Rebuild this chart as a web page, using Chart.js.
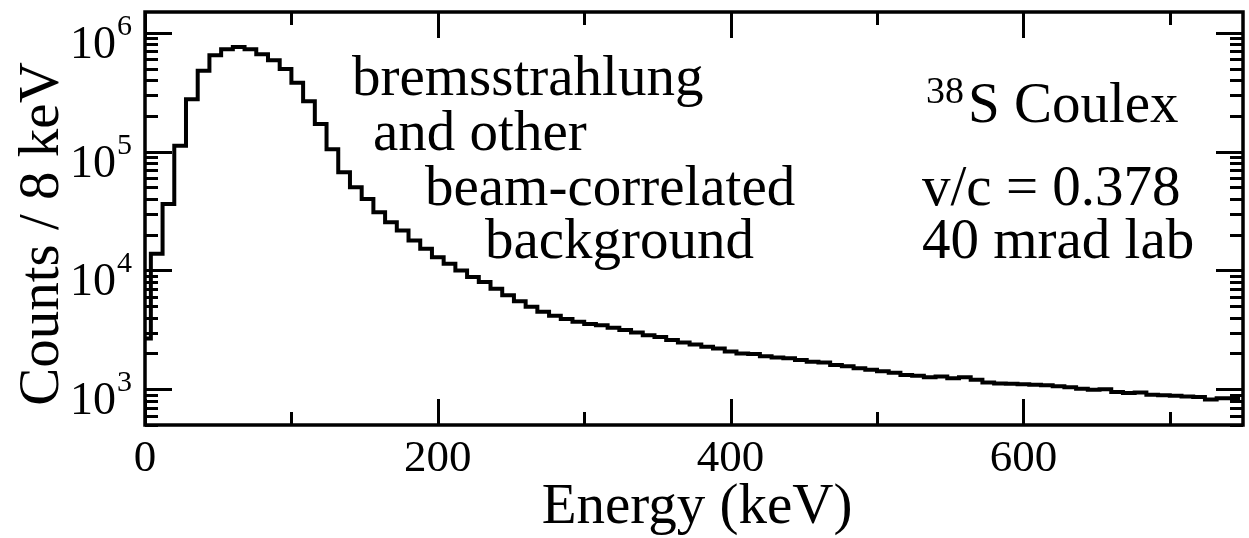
<!DOCTYPE html>
<html>
<head>
<meta charset="utf-8">
<script src="https://cdn.jsdelivr.net/npm/chart.js@4.4.0/dist/chart.umd.min.js"></script>
<style>
    html, body { margin: 0; padding: 0; background: #fff; }
    #wrap { width: 1249px; height: 538px; }
</style>
</head>
<body>
<div id="wrap"><canvas id="spectrum"></canvas></div>
<script>
// bin centres (keV), 8 keV bins
const energy = [
    0, 8, 16, 24, 32, 40, 48, 56, 64, 72, 80, 88, 96, 104, 112, 120,
    128, 136, 144, 152, 160, 168, 176, 184, 192, 200, 208, 216, 224, 232, 240,
    248, 256, 264, 272, 280, 288, 296, 304, 312, 320, 328, 336, 344, 352, 360,
    368, 376, 384, 392, 400, 408, 416, 424, 432, 440, 448, 456, 464, 472, 480,
    488, 496, 504, 512, 520, 528, 536, 544, 552, 560, 568, 576, 584, 592, 600,
    608, 616, 624, 632, 640, 648, 656, 664, 672, 680, 688, 696, 704, 712, 720,
    728, 736, 744
];
// counts per bin
const counts = [
    200, 2670, 13800, 36300, 112000, 277000, 480000, 649000, 730000, 762000, 730000, 662000, 589000, 496000, 380000, 266000,
    171000, 105000, 67000, 50100, 40000, 30900, 25500, 21700, 17900, 15200, 12900, 11400, 10000, 8790, 7980,
    7000, 6200, 5500, 4950, 4500, 4150, 3900, 3700, 3550, 3450, 3300, 3150, 3000, 2850, 2750,
    2600, 2480, 2380, 2280, 2200, 2080, 2000, 1980, 1900, 1850, 1820, 1760, 1700, 1680, 1600,
    1560, 1500, 1460, 1420, 1380, 1320, 1300, 1260, 1280, 1240, 1260, 1200, 1140, 1120, 1110,
    1100, 1090, 1080, 1060, 1040, 1010, 990, 1000, 950, 930, 940, 900, 890, 880, 870,
    860, 820, 840
];
const binWidth = 8;

const xMajor = [0, 200, 400, 600];
const xMinor = [100, 300, 500, 700];
const yMajor = [1e3, 1e4, 1e5, 1e6];
const yExponents = ["3", "4", "5", "6"];

const xTitle = "Energy (keV)";
const yTitle = "Counts / 8 keV";

const SERIF = '"Liberation Serif", "Times New Roman", serif';

// step points: left edge of every bin, plus the right edge of the last one
const stepPoints = energy.map((e, i) => ({ x: e - binWidth / 2, y: counts[i] }));
stepPoints.push({ x: energy[energy.length - 1] + binWidth / 2, y: counts[counts.length - 1] });

// minor log ticks 2..9 x 10^n inside the range
const yMin = 500, yMax = 1.5e6;
const yMinor = [];
for (let d = 100; d <= 1e6; d *= 10) {
    for (let m = 2; m <= 9; m++) {
        const v = m * d;
        if (v >= yMin && v <= yMax) yMinor.push(v);
    }
}

const framePlugin = {
    id: "frame",
    afterDraw(chart) {
        const ctx = chart.ctx;
        const a = chart.chartArea;
        const xs = chart.scales.x, ys = chart.scales.y;
        ctx.save();
        ctx.strokeStyle = "#000";
        ctx.fillStyle = "#000";
        ctx.lineWidth = 3;
        ctx.lineCap = "butt";

        // ticks, pointing inward on all four sides
        ctx.beginPath();
        const xt = (v, len) => {
            const p = Math.round(xs.getPixelForValue(v)) + 0.5;
            ctx.moveTo(p, a.bottom); ctx.lineTo(p, a.bottom - len);
            ctx.moveTo(p, a.top); ctx.lineTo(p, a.top + len);
        };
        const yt = (v, len) => {
            const p = Math.round(ys.getPixelForValue(v)) + 0.5;
            ctx.moveTo(a.left, p); ctx.lineTo(a.left + len, p);
            ctx.moveTo(a.right, p); ctx.lineTo(a.right - len, p);
        };
        xMajor.forEach(v => xt(v, 26));
        xMinor.forEach(v => xt(v, 13));
        yMajor.forEach(v => yt(v, 27));
        yMinor.forEach(v => yt(v, 13));
        ctx.stroke();

        // frame
        ctx.lineWidth = 3.5;
        ctx.strokeRect(a.left, a.top, a.right - a.left, a.bottom - a.top);

        // x tick labels
        ctx.font = "45px " + SERIF;
        ctx.textAlign = "center";
        ctx.textBaseline = "alphabetic";
        xMajor.forEach(v => ctx.fillText(String(v), xs.getPixelForValue(v), 471));

        // y tick labels 10^n
        yMajor.forEach((v, i) => {
            const p = ys.getPixelForValue(v);
            ctx.font = "46px " + SERIF;
            ctx.textAlign = "right";
            ctx.fillText("10", 116, p + 25);
            ctx.font = "30px " + SERIF;
            ctx.textAlign = "left";
            ctx.fillText(yExponents[i], 117, p + 2);
        });

        // axis titles
        ctx.font = "57px " + SERIF;
        ctx.textAlign = "center";
        ctx.fillText(xTitle, 697, 523);
        ctx.save();
        ctx.translate(58, 234);
        ctx.rotate(-Math.PI / 2);
        ctx.fillText(yTitle, 0, 0);
        ctx.restore();

        // annotations
        ctx.textAlign = "left";
        ctx.font = "57px " + SERIF;
        ctx.fillText("bremsstrahlung", 352, 95);
        ctx.fillText("and other", 373, 150);
        ctx.fillText("beam-correlated", 425, 205);
        ctx.fillText("background", 485, 258);

        ctx.font = "38px " + SERIF;
        ctx.fillText("38", 926, 103);
        ctx.font = "57px " + SERIF;
        ctx.fillText("S Coulex", 968, 122);
        ctx.fillText("v/c = 0.378", 922, 205);
        ctx.fillText("40 mrad lab", 922, 258);
        ctx.restore();
    }
};

const ctx = document.getElementById("spectrum").getContext("2d");
new Chart(ctx, {
    type: "line",
    data: {
        datasets: [{
            data: stepPoints,
            stepped: "after",
            borderColor: "#000",
            borderWidth: 4,
            pointRadius: 0,
            fill: false
        }]
    },
    options: {
        responsive: true,
        maintainAspectRatio: false,
        animation: false,
        events: [],
        layout: { padding: { left: 145, right: 6, top: 12, bottom: 113 } },
        plugins: { legend: { display: false }, tooltip: { enabled: false } },
        scales: {
            x: { type: "linear", min: 0, max: 750, display: false },
            y: { type: "logarithmic", min: yMin, max: yMax, display: false }
        }
    },
    plugins: [framePlugin]
});
</script>
</body>
</html>
